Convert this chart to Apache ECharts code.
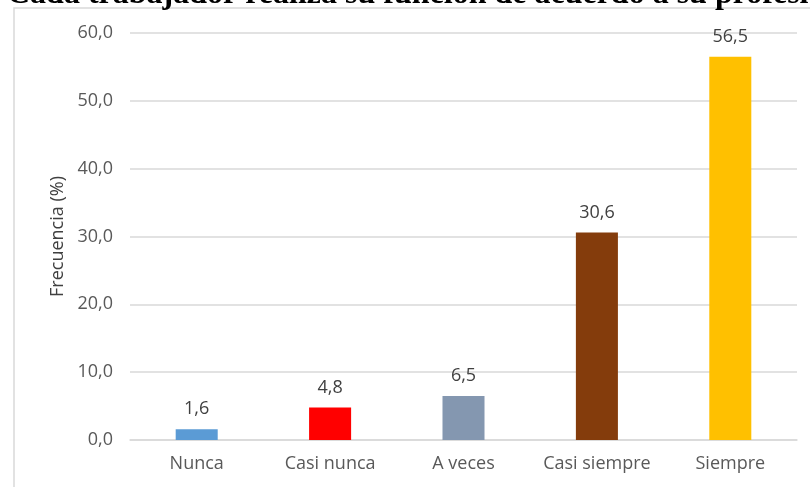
<!DOCTYPE html>
<html><head><meta charset="utf-8">
<script src="https://cdn.jsdelivr.net/npm/echarts@6/dist/echarts.min.js"></script>
<style>html,body{margin:0;padding:0;background:#fff}#c{width:810px;height:487px}</style>
</head><body><div id="c"></div>
<script>
const categories = ['Nunca', 'Casi nunca', 'A veces', 'Casi siempre', 'Siempre'];
const values = [1.6, 4.8, 6.5, 30.6, 56.5];
const colors = ['#5B9BD5', '#FF0000', '#8497B0', '#843C0C', '#FFC000'];
const titleText = 'Cada trabajador realiza su función de acuerdo a su profesión';
const axisName = 'Frecuencia (%)';

const FONT = '"Open Sans", sans-serif';
const chart = echarts.init(document.getElementById('c'));
const fmt = v => v.toFixed(1).replace('.', ',');
chart.setOption({
  animation: false,
  graphic: [
    {type: 'rect', shape: {x: 14, y: 8, width: 900, height: 600}, style: {fill: 'none', stroke: '#d9d9d9', lineWidth: 1.5}, silent: true},
    {type: 'text', left: 7, top: -21, style: {text: titleText, font: 'bold 32px "Liberation Serif", "Times New Roman", serif', fill: '#000'}}
  ],
  grid: {left: 130, right: 13, top: 33, bottom: 47, containLabel: false},
  xAxis: {
    type: 'category', data: categories,
    axisLine: {lineStyle: {color: '#d9d9d9', width: 1.5}},
    axisTick: {show: false},
    axisLabel: {color: '#595959', fontSize: 18, fontFamily: FONT, margin: 15, interval: 0, hideOverlap: false}
  },
  yAxis: {
    type: 'value', min: 0, max: 60, interval: 10,
    name: axisName, nameLocation: 'middle', nameGap: 63, nameRotate: 90,
    nameTextStyle: {color: '#404040', fontSize: 18, fontFamily: FONT},
    axisLine: {show: false}, axisTick: {show: false},
    splitLine: {lineStyle: {color: '#d9d9d9', width: 1.5}},
    axisLabel: {color: '#595959', fontSize: 18, fontFamily: FONT, margin: 17, formatter: fmt}
  },
  series: [{
    type: 'bar', barWidth: '31.5%',
    data: values.map((v, i) => ({value: v, itemStyle: {color: colors[i]}})),
    label: {show: true, position: 'top', distance: 11, color: '#404040', fontSize: 18, fontFamily: FONT, formatter: p => fmt(p.value)}
  }]
});
</script></body></html>
